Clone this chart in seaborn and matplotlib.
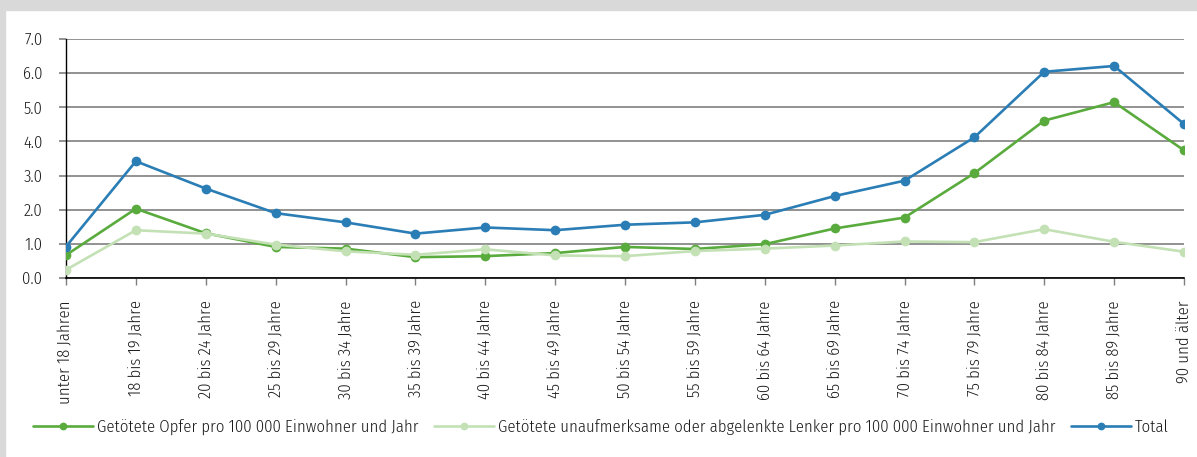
import matplotlib
matplotlib.use("Agg")
import matplotlib.pyplot as plt
import seaborn as sns
import pandas as pd
from matplotlib.patches import Rectangle

categories = ["unter 18 Jahren", "18 bis 19 Jahre", "20 bis 24 Jahre", "25 bis 29 Jahre",
              "30 bis 34 Jahre", "35 bis 39 Jahre", "40 bis 44 Jahre", "45 bis 49 Jahre",
              "50 bis 54 Jahre", "55 bis 59 Jahre", "60 bis 64 Jahre", "65 bis 69 Jahre",
              "70 bis 74 Jahre", "75 bis 79 Jahre", "80 bis 84 Jahre", "85 bis 89 Jahre",
              "90 und älter"]
opfer = [0.67, 2.03, 1.31, 0.91, 0.86, 0.61, 0.64, 0.73, 0.91, 0.85, 0.99, 1.45, 1.77, 3.07, 4.61, 5.15, 3.74]
lenker = [0.24, 1.40, 1.30, 0.98, 0.78, 0.68, 0.84, 0.66, 0.64, 0.79, 0.86, 0.95, 1.07, 1.05, 1.43, 1.06, 0.77]
total = [0.92, 3.42, 2.62, 1.90, 1.63, 1.30, 1.48, 1.40, 1.56, 1.63, 1.85, 2.40, 2.85, 4.12, 6.04, 6.21, 4.51]
series_names = ["Getötete Opfer pro 100 000 Einwohner und Jahr",
                "Getötete unaufmerksame oder abgelenkte Lenker pro 100 000 Einwohner und Jahr",
                "Total"]
yticks = [0.0, 1.0, 2.0, 3.0, 4.0, 5.0, 6.0, 7.0]

sns.set_theme(style="white")
plt.rcParams['font.family'] = ['Fira Sans Condensed', 'DejaVu Sans']
plt.rcParams['font.weight'] = 300
FS = 12
TC = "#1a1a1a"

rows = []
for name, vals in zip(series_names, [opfer, lenker, total]):
    for i, v in enumerate(vals):
        rows.append({"pos": i, "Kategorie": categories[i], "Wert": v, "Serie": name})
df = pd.DataFrame(rows)

palette = {series_names[0]: "#5aab3d", series_names[1]: "#c3e1b5", series_names[2]: "#2a7db5"}

W, H = 1197, 457
fig = plt.figure(figsize=(W / 100, H / 100), dpi=100)
fig.patches.append(Rectangle((0, 1 - 10 / H), 1, 10 / H, transform=fig.transFigure,
                             color="#d9d9d9", zorder=0))
fig.patches.append(Rectangle((0, 0), 5 / W, 1, transform=fig.transFigure,
                             color="#d9d9d9", zorder=0))

ax = fig.add_axes([66 / W, 1 - 278 / H, (1184 - 66) / W, (278 - 39) / H])
sns.lineplot(data=df, x="pos", y="Wert", hue="Serie", hue_order=series_names,
             palette=palette, marker="o", markersize=7, markeredgewidth=0,
             linewidth=1.9, ax=ax, legend=True, zorder=3)

ax.set_xlim(0, len(categories) - 1)
ax.set_ylim(0, 7.0)
ax.set_yticks(yticks)
ax.set_yticklabels([f"{t:.1f}" for t in yticks], fontsize=FS, color=TC)
ax.set_xticks(range(len(categories)))
ax.set_xticklabels(categories, rotation=90, fontsize=FS, color=TC, va="top")
ax.set_xlabel("")
ax.set_ylabel("")
ax.grid(axis="y", color="#7f7f7f", linewidth=1.2, zorder=0)
ax.set_axisbelow(True)
for s in ["top", "right"]:
    ax.spines[s].set_visible(False)
ax.spines["left"].set_color("#000000")
ax.spines["bottom"].set_color("#000000")
ax.spines["left"].set_linewidth(1.0)
ax.spines["bottom"].set_linewidth(1.2)
ax.tick_params(axis="y", which="both", left=True, length=5, color="#7f7f7f", width=1.2, pad=12)
ax.tick_params(axis="x", which="both", bottom=True, length=5, color="#7f7f7f", width=1, pad=11)
ax.yaxis.grid(True)
ax.xaxis.grid(False)

handles, labels = ax.get_legend_handles_labels()
ax.legend_.remove()
leg = fig.legend(handles, labels, loc="center", bbox_to_anchor=(0.502, 1 - 427 / H), ncol=3,
                 frameon=False, fontsize=FS, handlelength=3.6, columnspacing=0.9,
                 handletextpad=0.25, markerscale=0.8)
for t in leg.get_texts():
    t.set_color(TC)

fig.savefig("out.png", dpi=100, facecolor="white")
